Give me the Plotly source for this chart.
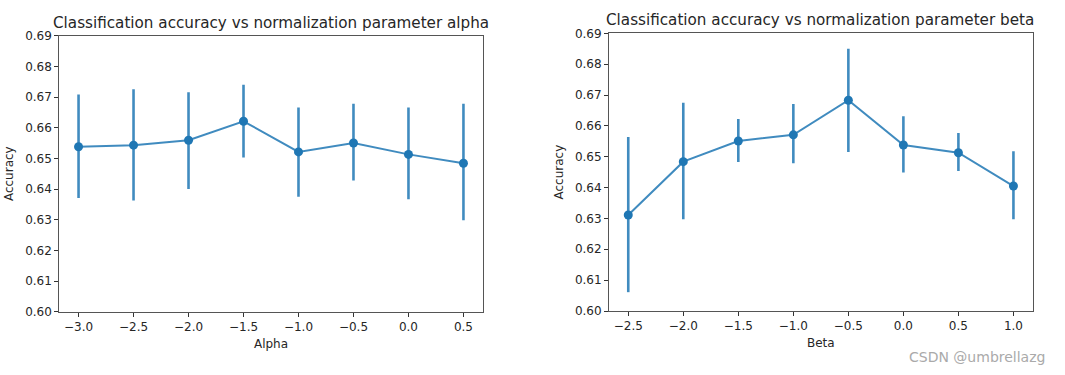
import plotly.graph_objects as go

# ---- data ----
alpha_x = [-3.0, -2.5, -2.0, -1.5, -1.0, -0.5, 0.0, 0.5]
alpha_acc = [0.6538, 0.6543, 0.6559, 0.6621, 0.6521, 0.6550, 0.6513, 0.6484]
alpha_hi = [0.6708, 0.6725, 0.6716, 0.6740, 0.6666, 0.6678, 0.6666, 0.6678]
alpha_lo = [0.6371, 0.6363, 0.6400, 0.6503, 0.6375, 0.6428, 0.6367, 0.6298]

beta_x = [-2.5, -2.0, -1.5, -1.0, -0.5, 0.0, 0.5, 1.0]
beta_acc = [0.6311, 0.6484, 0.6551, 0.6571, 0.6683, 0.6538, 0.6513, 0.6405]
beta_hi = [0.6564, 0.6675, 0.6622, 0.6671, 0.6850, 0.6631, 0.6577, 0.6518]
beta_lo = [0.6061, 0.6297, 0.6483, 0.6479, 0.6515, 0.6449, 0.6454, 0.6297]

y_ticks = [0.60, 0.61, 0.62, 0.63, 0.64, 0.65, 0.66, 0.67, 0.68, 0.69]

BLUE = "#1f77b4"
LINE = "rgba(31,119,180,0.85)"
TXT = "#262626"
FONT = "DejaVu Sans"


def trace(x, y, hi, lo, xa, ya):
    return go.Scatter(
        x=x, y=y, xaxis=xa, yaxis=ya, mode="lines+markers",
        line=dict(color=LINE, width=2),
        marker=dict(color=BLUE, size=9),
        error_y=dict(type="data", symmetric=False,
                     array=[h - v for h, v in zip(hi, y)],
                     arrayminus=[v - l for v, l in zip(y, lo)],
                     color=LINE, thickness=2.6, width=0),
        showlegend=False, hoverinfo="x+y",
    )


fig = go.Figure()
fig.add_trace(trace(alpha_x, alpha_acc, alpha_hi, alpha_lo, "x", "y"))
fig.add_trace(trace(beta_x, beta_acc, beta_hi, beta_lo, "x2", "y2"))

W, H = 1065, 375


def xdom(a, b):
    return [a / W, b / W]


def ydom(bottom, top):
    return [1 - bottom / H, 1 - top / H]


axis_common = dict(
    showgrid=False, zeroline=False, showline=True, linecolor="#555555",
    linewidth=1, mirror=True, ticks="outside", ticklen=4, tickcolor="#333333",
    tickfont=dict(family=FONT, size=12, color=TXT), automargin=False,
)
lab_font = dict(family=FONT, size=12, color=TXT)

fig.update_layout(
    width=W, height=H, margin=dict(l=0, r=0, t=0, b=0),
    plot_bgcolor="white", paper_bgcolor="white",
    font=dict(family=FONT, color=TXT),
    xaxis=dict(domain=xdom(59.3, 482.7), anchor="y", range=[-3.175, 0.675],
               tickvals=alpha_x, tickformat=".1f",
               title=dict(text="Alpha", font=lab_font, standoff=6),
               **axis_common),
    yaxis=dict(domain=ydom(311.7, 35.7), anchor="x", range=[0.60, 0.69],
               tickvals=y_ticks, tickformat=".2f",
               title=dict(text="Accuracy", font=lab_font, standoff=8),
               **axis_common),
    xaxis2=dict(domain=xdom(609, 1032.7), anchor="y2", range=[-2.675, 1.175],
                tickvals=beta_x, tickformat=".1f",
                title=dict(text="Beta", font=lab_font, standoff=6),
                **axis_common),
    yaxis2=dict(domain=ydom(311, 33.3), anchor="x2", range=[0.60, 0.69],
                tickvals=y_ticks, tickformat=".2f",
                title=dict(text="Accuracy", font=lab_font, standoff=8),
                **axis_common),
    annotations=[
        dict(text="Classification accuracy vs normalization parameter alpha",
             x=270.5 / W, y=1 - 23.5 / H, xref="paper", yref="paper",
             xanchor="center", yanchor="middle", showarrow=False,
             font=dict(family=FONT, size=15.2, color=TXT)),
        dict(text="Classification accuracy vs normalization parameter beta",
             x=820 / W, y=1 - 20.5 / H, xref="paper", yref="paper",
             xanchor="center", yanchor="middle", showarrow=False,
             font=dict(family=FONT, size=15.2, color=TXT)),
        dict(text="CSDN @umbrellazg",
             x=1047 / W, y=1 - 357 / H, xref="paper", yref="paper",
             xanchor="right", yanchor="middle", showarrow=False,
             font=dict(family=FONT, size=14, color="#aaaaaa")),
    ],
)

fig.write_html("out.html", config={"displayModeBar": False},
               post_script="document.body.style.margin='0px';document.body.style.overflow='hidden';")
